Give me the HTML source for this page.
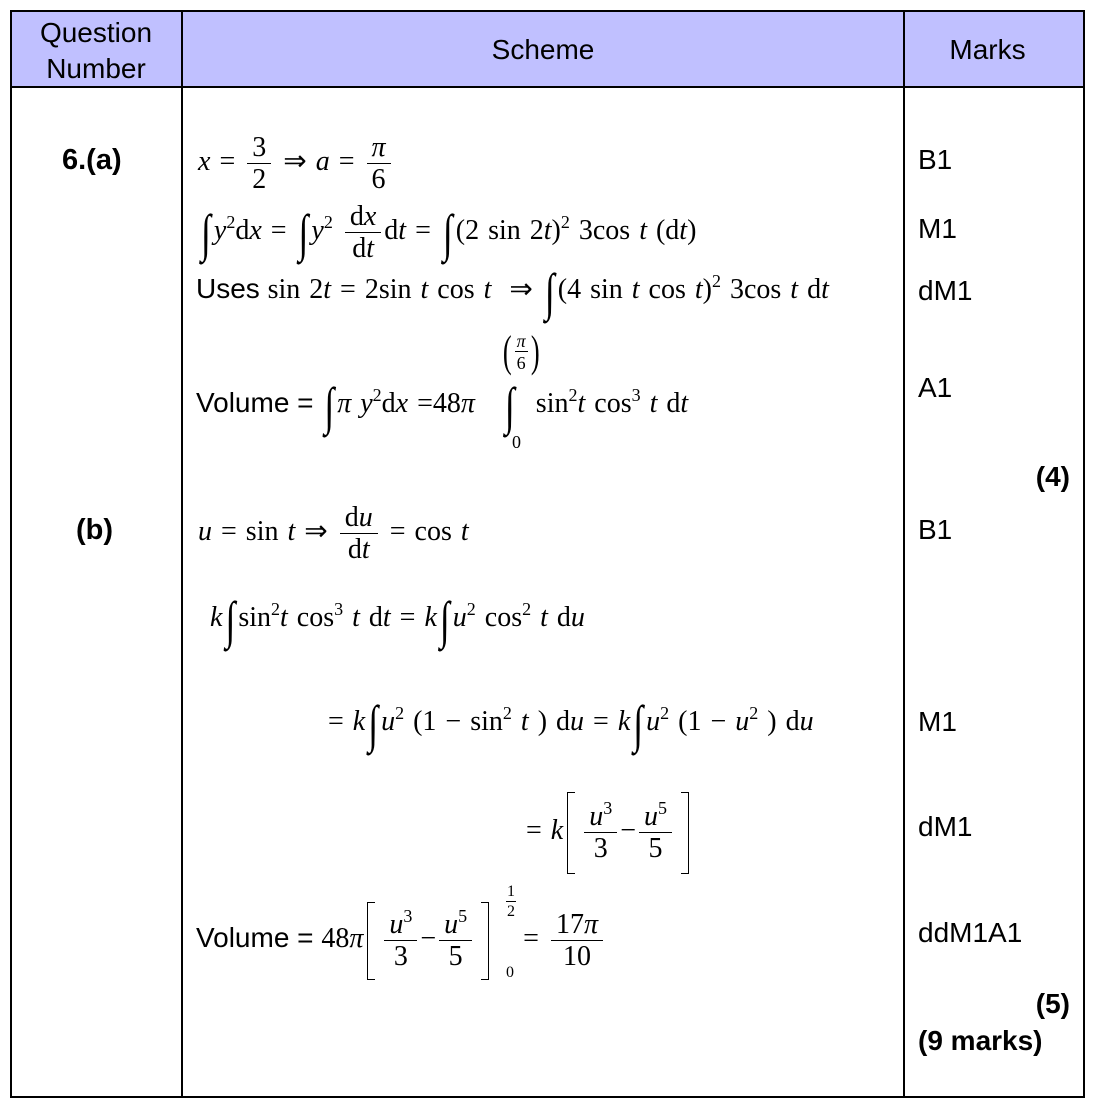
<!DOCTYPE html>
<html><head><meta charset="utf-8">
<style>
body{margin:0;width:1096px;height:1108px;background:#fff;position:relative;overflow:hidden;font-family:"Liberation Sans",sans-serif;color:#000}
.a{position:absolute}
.hl{position:absolute;background:#000}
.s{font-family:"Liberation Sans",sans-serif;font-size:28px;word-spacing:0}
.m{position:absolute;height:80px;line-height:80px;font-family:"Liberation Serif",serif;font-size:28px;white-space:pre;word-spacing:2px}
.m i{font-style:italic}
.f{display:inline-flex;flex-direction:column;align-items:center;margin:0 3px;line-height:1;vertical-align:middle}
.f>span:first-child{border-bottom:1.5px solid #000;padding:0 5px 1px}
.f>span:last-child{padding-top:2px}
.int{display:inline-block;font-size:36px;transform:scale(1,1.45);margin:0 3px;vertical-align:middle;line-height:1}
sup{font-size:18px;vertical-align:0.6em;line-height:0}
.lb,.rb{display:inline-block;vertical-align:middle;width:7px;border-top:1.5px solid #000;border-bottom:1.5px solid #000}
.lb{border-left:1.5px solid #000;margin:0 6px 0 4px}
.rb{border-right:1.5px solid #000;margin:0 2px 0 6px}
.mk{position:absolute;font-size:28px;left:918px}
.b{font-weight:bold}
</style></head><body>
<div class="a" style="left:10px;top:10px;width:1075px;height:77px;background:#c0c0ff"></div>
<div class="a" style="left:10px;top:10px;width:1071px;height:1084px;border:2px solid #000"></div>
<div class="hl" style="left:10px;top:86px;width:1075px;height:2px"></div>
<div class="hl" style="left:181px;top:10px;width:2px;height:1088px"></div>
<div class="hl" style="left:903px;top:10px;width:2px;height:1088px"></div>

<div class="a s" style="left:12px;width:168px;top:15px;text-align:center;line-height:36px">Question<br>Number</div>
<div class="a s" style="left:183px;width:720px;top:34px;text-align:center">Scheme</div>
<div class="a s" style="left:905px;width:165px;top:34px;text-align:center">Marks</div>

<div class="a s b" style="left:62px;top:144px;font-size:29px">6.(a)</div>
<div class="a s b" style="left:76px;top:514px;font-size:29px">(b)</div>

<div class="mk" style="top:144px">B1</div>
<div class="mk" style="top:213px">M1</div>
<div class="mk" style="top:275px">dM1</div>
<div class="mk" style="top:372px">A1</div>
<div class="mk b" style="left:auto;right:26px;top:461px">(4)</div>
<div class="mk" style="top:514px">B1</div>
<div class="mk" style="top:706px">M1</div>
<div class="mk" style="top:811px">dM1</div>
<div class="mk" style="top:917px">ddM1A1</div>
<div class="mk b" style="left:auto;right:26px;top:988px">(5)</div>
<div class="mk b" style="top:1025px">(9 marks)</div>

<div class="m" style="left:198px;top:122px"><i>x</i> = <span class="f"><span>3</span><span>2</span></span> ⇒ <i>a</i> = <span class="f"><span><i>π</i></span><span>6</span></span></div>

<div class="m" style="left:198px;top:191px"><span class="int">∫</span><i>y</i><sup>2</sup>d<i>x</i> = <span class="int">∫</span><i>y</i><sup>2</sup> <span class="f"><span>d<i>x</i></span><span>d<i>t</i></span></span>d<i>t</i> = <span class="int">∫</span>(2 sin 2<i>t</i>)<sup>2</sup> 3cos <i>t</i> (d<i>t</i>)</div>

<div class="m" style="left:196px;top:249px"><span class="s">Uses </span>sin 2<i>t</i> = 2sin <i>t</i> cos <i>t</i>  ⇒ <span class="int">∫</span>(4 sin <i>t</i> cos <i>t</i>)<sup>2</sup> 3cos <i>t</i> d<i>t</i></div>

<div class="m" style="left:196px;top:363px"><span class="s">Volume = </span><span class="int">∫</span><i>π y</i><sup>2</sup>d<i>x</i> =48<i>π</i>   <span class="int">∫</span>  sin<sup>2</sup><i>t</i> cos<sup>3</sup> <i>t</i> d<i>t</i></div>
<div class="a" style="left:500px;top:326px;font-family:'Liberation Serif',serif;font-size:18px;display:flex;align-items:center"><span style="font-size:44px;transform:scaleX(0.6);display:inline-block">(</span><span class="f" style="margin:0"><span style="padding:0 2px 1px"><i>π</i></span><span>6</span></span><span style="font-size:44px;transform:scaleX(0.6);display:inline-block">)</span></div>
<div class="a" style="left:512px;top:432px;font-family:'Liberation Serif',serif;font-size:18px">0</div>

<div class="m" style="left:198px;top:492px"><i>u</i> = sin <i>t</i> ⇒ <span class="f"><span>d<i>u</i></span><span>d<i>t</i></span></span> = cos <i>t</i></div>

<div class="m" style="left:210px;top:578px"><i>k</i><span class="int">∫</span>sin<sup>2</sup><i>t</i> cos<sup>3</sup> <i>t</i> d<i>t</i> = <i>k</i><span class="int">∫</span><i>u</i><sup>2</sup> cos<sup>2</sup> <i>t</i> d<i>u</i></div>

<div class="m" style="left:328px;top:682px">= <i>k</i><span class="int">∫</span><i>u</i><sup>2</sup> (1 − sin<sup>2</sup> <i>t</i> ) d<i>u</i> = <i>k</i><span class="int">∫</span><i>u</i><sup>2</sup> (1 − <i>u</i><sup>2</sup> ) d<i>u</i></div>

<div class="m" style="left:526px;top:790px;height:82px;line-height:82px">= <i>k</i><span class="lb" style="height:80px"></span><span class="f"><span><i>u</i><sup>3</sup></span><span>3</span></span>−<span class="f"><span><i>u</i><sup>5</sup></span><span>5</span></span><span class="rb" style="height:80px"></span></div>

<div class="m" style="left:196px;top:897px;height:82px;line-height:82px"><span class="s">Volume = </span>48<i>π</i><span class="lb" style="height:76px"></span><span class="f"><span><i>u</i><sup>3</sup></span><span>3</span></span>−<span class="f"><span><i>u</i><sup>5</sup></span><span>5</span></span><span class="rb" style="height:76px"></span><span style="display:inline-block;width:32px"></span>= <span class="f"><span>17<i>π</i></span><span>10</span></span></div>
<div class="a" style="left:506px;top:884px;font-family:'Liberation Serif',serif;font-size:16px;line-height:1"><span class="f" style="margin:0"><span style="padding:0 1px 1px">1</span><span>2</span></span></div>
<div class="a" style="left:506px;top:964px;font-family:'Liberation Serif',serif;font-size:16px">0</div>
</body></html>
